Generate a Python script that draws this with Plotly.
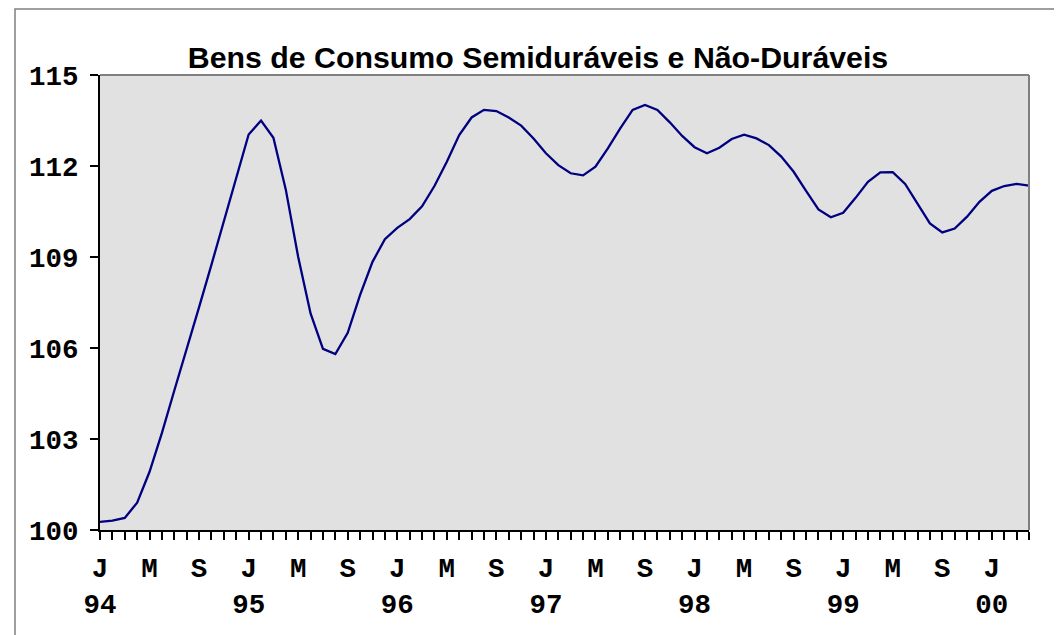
import plotly.graph_objects as go

title_text = "Bens de Consumo Semiduráveis e Não-Duráveis"

# Monthly index, Jan 1994 .. Apr 2000
values = [
    100.27, 100.31, 100.40, 100.90, 101.92, 103.20, 104.60, 105.95, 107.35, 108.75,
    110.20, 111.65, 113.04, 113.50, 112.93, 111.22, 109.00, 107.14, 105.97, 105.80,
    106.50, 107.75, 108.84, 109.59, 109.96, 110.25, 110.67, 111.34, 112.14, 113.02,
    113.60, 113.85, 113.81, 113.60, 113.33, 112.91, 112.42, 112.03, 111.76, 111.69,
    111.98, 112.58, 113.24, 113.85, 114.01, 113.85, 113.44, 112.99, 112.62, 112.42,
    112.60, 112.89, 113.03, 112.91, 112.69, 112.31, 111.81, 111.18, 110.57, 110.31,
    110.46, 110.95, 111.48, 111.79, 111.80, 111.41, 110.77, 110.11, 109.81, 109.94,
    110.33, 110.82, 111.18, 111.34, 111.41, 111.35,
]
months = list(range(len(values)))

x_tickvals = [0, 4, 8, 12, 16, 20, 24, 28, 32, 36, 40, 44, 48, 52, 56, 60, 64, 68, 72]
x_ticktext = ["J<br>94", "M", "S", "J<br>95", "M", "S", "J<br>96", "M", "S",
              "J<br>97", "M", "S", "J<br>98", "M", "S", "J<br>99", "M", "S", "J<br>00"]
y_tickvals = [100, 103, 106, 109, 112, 115]

# page body has an 8px margin; work in figure coordinates
OFF = 8
W, H = 1062 - OFF, 635 - OFF
L, R, T, B = 100 - OFF, 1029 - OFF, 75 - OFF, 530 - OFF

fig = go.Figure()
fig.add_trace(go.Scatter(x=months, y=values, mode="lines",
                         line=dict(color="#000080", width=2.3), showlegend=False,
                         hoverinfo="skip"))

tickfont = dict(family="Liberation Mono, Courier New, monospace", size=27.5,
                color="black", weight="bold")

fig.update_layout(
    width=W, height=H,
    margin=dict(l=L, r=W - R, t=T, b=H - B, pad=0),
    paper_bgcolor="white",
    plot_bgcolor="#e1e1e1",
    title=dict(text=title_text, xref="container", yref="container",
               x=(538 - OFF) / W, y=1 - (57 - OFF) / H, xanchor="center", yanchor="middle",
               font=dict(family="Liberation Sans, Arial, sans-serif", size=30.3,
                         color="black", weight="bold")),
    xaxis=dict(range=[0, len(values) - 1], tickvals=x_tickvals, ticktext=x_ticktext,
               ticks="outside", ticklen=8, tickwidth=2, tickcolor="black",
               showline=True, linecolor="black", linewidth=2,
               showgrid=False, zeroline=False, tickfont=tickfont,
               ticklabelstandoff=4,
               minor=dict(dtick=1, tick0=0, ticks="outside", ticklen=8,
                          tickwidth=2, tickcolor="black", showgrid=False)),
    yaxis=dict(range=[100, 115], tickvals=y_tickvals,
               ticks="outside", ticklen=8, tickwidth=2, tickcolor="black",
               showline=True, linecolor="black", linewidth=2,
               showgrid=False, zeroline=False, tickfont=tickfont,
               ticklabelstandoff=6),
)

# gray top/right plot border
fig.add_shape(type="line", xref="paper", yref="paper", x0=0, x1=1, y0=1, y1=1,
              line=dict(color="#808080", width=2))
fig.add_shape(type="line", xref="paper", yref="paper", x0=1, x1=1, y0=0, y1=1,
              line=dict(color="#808080", width=2))
# chart-area border
pw, ph = R - L, B - T
fig.add_shape(type="rect", xref="paper", yref="paper",
              x0=(15 - OFF - L) / pw, x1=(1060 - OFF - L) / pw,
              y0=(B - 680) / ph, y1=(B - (9 - OFF)) / ph,
              line=dict(color="#808080", width=1.5), fillcolor="rgba(0,0,0,0)",
              layer="below")

fig.write_html("out.html")
